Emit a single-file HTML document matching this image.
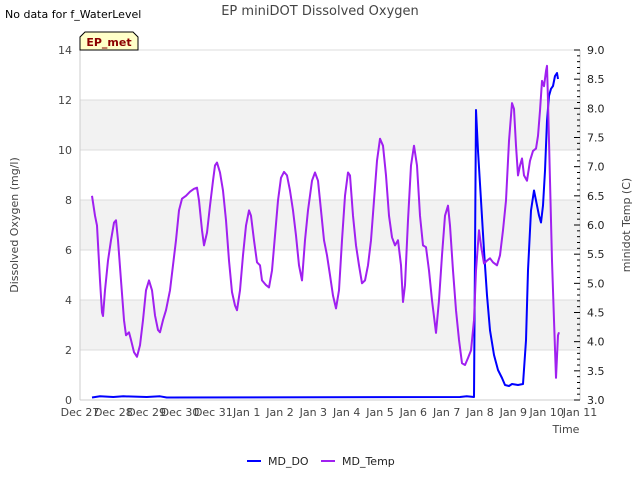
<!DOCTYPE html>
<html><head><meta charset="utf-8">
<style>
body{margin:0;background:#fff;font-family:"Liberation Sans","DejaVu Sans",sans-serif;}
svg text{font-family:"DejaVu Sans","Liberation Sans",sans-serif;}
</style></head>
<body>
<svg id="chart" width="640" height="480" viewBox="0 0 640 480">
<rect width="640" height="480" fill="#fff"/>
<text x="320" y="15" font-size="13" fill="#444" text-anchor="middle">EP miniDOT Dissolved Oxygen</text>
<text x="5" y="18" font-size="11" fill="#000">No data for f_WaterLevel</text>
<g id="bands"></g>
<g id="grid"></g>
<g id="series"></g>
<g id="axes"></g>
<g>
<path d="M80,50 L80,37 L85,32 L133,32 L138,37 L138,50 Z" fill="#ffffc8" stroke="#000" stroke-width="1"/>
<text x="109" y="46" font-size="11" font-weight="bold" fill="#8b0000" text-anchor="middle">EP_met</text>
</g>
<text x="18" y="225" font-size="11" fill="#444" text-anchor="middle" transform="rotate(-90 18 225)">Dissolved Oxygen (mg/l)</text>
<text x="630" y="225" font-size="11" fill="#444" text-anchor="middle" transform="rotate(-90 630 225)">minidot Temp (C)</text>
<text x="566" y="433" font-size="11" fill="#444" text-anchor="middle">Time</text>
<g>
<g><line x1="247" y1="461" x2="261" y2="461" stroke="#0000ff" stroke-width="2"/><text x="268" y="465" font-size="11" fill="#222">MD_DO</text></g>
<g><line x1="321" y1="461" x2="335" y2="461" stroke="#a020f0" stroke-width="2"/><text x="342" y="465" font-size="11" fill="#222">MD_Temp</text></g>
</g>
</svg>
<script>
const xTickLabels=["Dec 27","Dec 28","Dec 29","Dec 30","Dec 31","Jan 1","Jan 2","Jan 3","Jan 4","Jan 5","Jan 6","Jan 7","Jan 8","Jan 9","Jan 10","Jan 11"];
const leftTicks=[0,2,4,6,8,10,12,14];
const rightTicks=[3.0,3.5,4.0,4.5,5.0,5.5,6.0,6.5,7.0,7.5,8.0,8.5,9.0];
const tempDays=[0.36,0.45,0.51,0.60,0.66,0.69,0.75,0.84,0.93,1.02,1.08,1.14,1.23,1.32,1.38,1.47,1.53,1.62,1.71,1.80,1.89,1.98,2.07,2.16,2.25,2.34,2.40,2.49,2.58,2.70,2.79,2.88,2.97,3.06,3.18,3.30,3.42,3.51,3.57,3.66,3.72,3.81,3.90,3.99,4.05,4.11,4.20,4.29,4.38,4.47,4.56,4.65,4.71,4.80,4.89,4.98,5.07,5.13,5.22,5.31,5.40,5.46,5.58,5.67,5.76,5.85,5.94,6.03,6.12,6.21,6.30,6.39,6.48,6.57,6.66,6.75,6.84,6.96,7.05,7.14,7.23,7.32,7.41,7.50,7.59,7.68,7.77,7.86,7.95,8.04,8.10,8.19,8.28,8.37,8.46,8.55,8.64,8.73,8.82,8.91,9.00,9.09,9.18,9.27,9.36,9.45,9.54,9.63,9.69,9.75,9.84,9.93,10.02,10.11,10.20,10.29,10.38,10.47,10.56,10.68,10.77,10.86,10.95,11.04,11.10,11.19,11.28,11.37,11.46,11.55,11.64,11.73,11.82,11.88,11.97,12.03,12.12,12.21,12.30,12.39,12.51,12.60,12.69,12.78,12.87,12.96,13.02,13.08,13.14,13.20,13.26,13.32,13.41,13.50,13.59,13.68,13.74,13.80,13.86,13.92,13.98,14.01,14.04,14.10,14.16,14.22,14.28,14.34,14.37];
const tempValues=[6.50,6.16,5.99,5.05,4.50,4.44,4.88,5.39,5.74,6.04,6.08,5.74,5.05,4.37,4.11,4.16,4.03,3.82,3.74,3.94,4.37,4.88,5.05,4.88,4.45,4.20,4.16,4.37,4.54,4.88,5.31,5.74,6.25,6.45,6.50,6.57,6.62,6.64,6.42,5.91,5.65,5.87,6.33,6.76,7.02,7.07,6.90,6.59,6.08,5.39,4.85,4.62,4.54,4.88,5.48,5.99,6.25,6.16,5.74,5.36,5.31,5.05,4.97,4.93,5.22,5.82,6.42,6.81,6.91,6.85,6.59,6.25,5.82,5.31,5.05,5.74,6.25,6.76,6.90,6.76,6.25,5.74,5.48,5.14,4.79,4.57,4.88,5.74,6.50,6.90,6.85,6.16,5.65,5.31,5.00,5.05,5.31,5.74,6.42,7.10,7.48,7.36,6.85,6.16,5.79,5.65,5.74,5.31,4.68,4.97,6.08,7.02,7.36,7.02,6.16,5.65,5.62,5.22,4.71,4.15,4.71,5.48,6.16,6.33,5.99,5.22,4.54,4.03,3.63,3.60,3.72,3.85,4.37,5.22,5.91,5.65,5.34,5.39,5.43,5.36,5.31,5.48,5.91,6.42,7.44,8.09,7.99,7.36,6.85,7.02,7.14,6.85,6.76,7.10,7.27,7.31,7.53,7.96,8.47,8.38,8.64,8.73,8.13,6.76,5.39,4.37,3.38,4.11,4.16];
const doDays=[0.36,0.6,1.0,1.3,2.0,2.4,2.6,11.4,11.6,11.82,11.88,11.94,12.03,12.12,12.21,12.30,12.42,12.54,12.66,12.75,12.87,12.96,13.14,13.29,13.38,13.44,13.53,13.62,13.68,13.77,13.83,13.89,13.95,14.01,14.07,14.13,14.19,14.25,14.31,14.34];
const doValues=[0.1,0.15,0.12,0.15,0.12,0.15,0.1,0.12,0.15,0.12,11.6,9.97,7.98,5.98,4.19,2.79,1.80,1.20,0.88,0.60,0.56,0.64,0.60,0.64,2.39,5.19,7.58,8.38,7.98,7.38,7.10,7.78,9.17,11.17,12.17,12.45,12.56,12.96,13.08,12.84];

const L=80,R=580,T=50,B=400;
const xs=d=>L+d*(500/15);
const yl=v=>B-(v/14)*(B-T);
const yr=v=>B-((v-3)/6)*(B-T);
const NS="http://www.w3.org/2000/svg";
function mk(parent,tag,attrs){const e=document.createElementNS(NS,tag);for(const k in attrs)e.setAttribute(k,attrs[k]);parent.appendChild(e);return e;}
const bands=document.getElementById('bands'),grid=document.getElementById('grid'),series=document.getElementById('series'),axes=document.getElementById('axes');
mk(bands,'rect',{x:L,y:T,width:R-L,height:B-T,fill:'#fff'});
for(let i=0;i<leftTicks.length-1;i++){
  if(i%2===1){const r=mk(bands,'rect',{x:L,y:yl(leftTicks[i+1]),width:R-L,height:yl(leftTicks[i])-yl(leftTicks[i+1]),fill:'#f2f2f2'});
  
  }
}
leftTicks.forEach(v=>{
  const g=mk(grid,'line',{x1:L,x2:R,y1:yl(v),y2:yl(v),stroke:'#dcdcdc','stroke-width':1});
  
  
  const t=mk(axes,'text',{x:L-8,y:yl(v)+4,'font-size':11,fill:'#444','text-anchor':'end'});
  t.textContent=v;
  
  
});
mk(axes,'line',{x1:L,x2:L,y1:T,y2:B,stroke:'#ccc'});
mk(axes,'line',{x1:L,x2:R,y1:B,y2:B,stroke:'#ccc'});
mk(axes,'line',{x1:R,x2:R,y1:T,y2:B,stroke:'#ccc'});
for(let k=0;k<=60;k++){const v=3+k*0.1;const big=k%5===0;
  mk(axes,'line',{x1:R-(big?6:3),x2:R,y1:yr(v),y2:yr(v),stroke:'#000'});}
rightTicks.forEach(v=>{
  const t=mk(axes,'text',{x:R+7,y:yr(v)+4,'font-size':11,fill:'#222'});
  t.textContent=v.toFixed(1);
  
  
});
xTickLabels.forEach((s,i)=>{
  const t=mk(axes,'text',{x:xs(i),y:B+16,'font-size':11,fill:'#444','text-anchor':'middle'});
  t.textContent=s;
  
  
});
const doPath=mk(series,'path',{d:doDays.map((d,i)=>(i?'L':'M')+xs(d).toFixed(1)+','+yl(doValues[i]).toFixed(1)).join(''),fill:'none',stroke:'#0000ff','stroke-width':2,'stroke-linejoin':'round'});


const tPath=mk(series,'path',{d:tempDays.map((d,i)=>(i?'L':'M')+xs(d).toFixed(1)+','+yr(tempValues[i]).toFixed(1)).join(''),fill:'none',stroke:'#a020f0','stroke-width':2,'stroke-linejoin':'round'});


</script>
</body></html>
